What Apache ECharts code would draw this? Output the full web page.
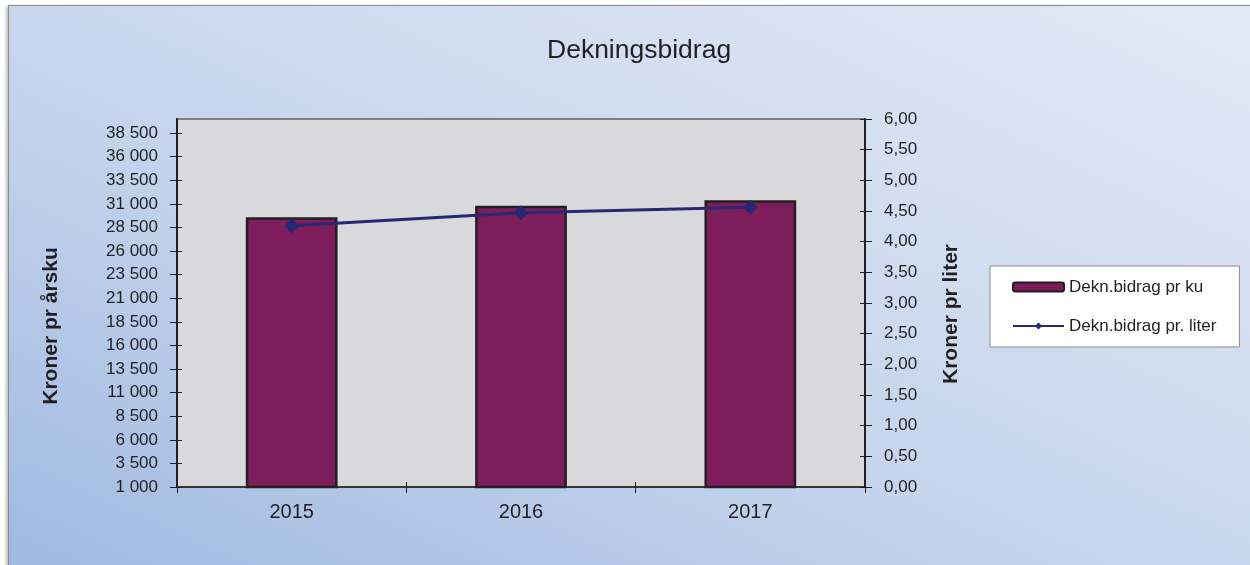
<!DOCTYPE html>
<html>
<head>
<meta charset="utf-8">
<script src="https://cdn.jsdelivr.net/npm/echarts@6/dist/echarts.min.js"></script>
<style>
  html, body { margin: 0; padding: 0; background: #ffffff; }
  #frame {
    position: absolute; left: 8px; top: 5px; width: 1260px; height: 580px;
    border-left: 1.5px solid #8a8a8a; border-top: 1.5px solid #8a8a8a;
    background: linear-gradient(to top right, #9fb8e0 0%, #c6d5ed 45%, #e3eaf6 100%);
    box-shadow: -2px 1px 3px rgba(0,0,0,0.25);
  }
  #main { position: absolute; left: 0; top: 0; width: 1250px; height: 565px; }
</style>
</head>
<body>
<div id="frame"></div>
<div id="main"></div>
<script>
// data
const years = ['2015', '2016', '2017'];
const dbPerCow = [29600, 30800, 31400];     // Dekn.bidrag pr ku
const dbPerLiter = [4.26, 4.47, 4.56];      // Dekn.bidrag pr. liter
const leftTicks = [1000, 3500, 6000, 8500, 11000, 13500, 16000, 18500,
                   21000, 23500, 26000, 28500, 31000, 33500, 36000, 38500];

const font = 'Liberation Sans, Arial, sans-serif';
const txt = '#231f20';

const fmtSpace = v => String(v).replace(/\B(?=(\d{3})+(?!\d))/g, ' ');
const fmtComma = v => v.toFixed(2).replace('.', ',');

// the excel-style ticks cross the axis line, so a bare twin axis draws the inner half
const innerTicks = (extra) => Object.assign({
    axisLine: { show: false },
    axisLabel: { show: false },
    splitLine: { show: false },
    axisTick: { show: true, inside: true, length: 5, lineStyle: { color: '#231f20' } }
}, extra);

const myChart = echarts.init(document.getElementById('main'), null, { renderer: 'canvas' });

myChart.setOption({
    backgroundColor: 'transparent',
    animation: false,
    title: {
        text: 'Dekningsbidrag',
        left: 542,
        top: 32,
        textStyle: { fontFamily: font, fontSize: 26.5, fontWeight: 'normal', color: txt }
    },
    grid: {
        left: 177, top: 119, right: 385, bottom: 78,
        show: true,
        backgroundColor: '#d9d9db',
        borderColor: '#7f7f7f',
        borderWidth: 2
    },
    legend: {
        orient: 'vertical',
        left: 990,
        top: 266,
        padding: [11, 23, 11, 22],
        backgroundColor: '#ffffff',
        borderColor: '#8c8c8c',
        borderWidth: 1,
        itemWidth: 51,
        itemHeight: 9,
        itemGap: 19,
        textStyle: { fontFamily: font, fontSize: 17, color: txt, lineHeight: 20 },
        data: ['Dekn.bidrag pr ku', 'Dekn.bidrag pr. liter']
    },
    xAxis: [
        {
            type: 'category',
            data: years,
            boundaryGap: true,
            axisLine: { lineStyle: { color: '#231f20', width: 1.5 } },
            axisTick: { show: true, length: 6, lineStyle: { color: '#231f20' } },
            axisLabel: { fontFamily: font, fontSize: 20, color: txt, margin: 15 }
        },
        innerTicks({ type: 'category', data: years, boundaryGap: true, position: 'bottom' })
    ],
    yAxis: [
        {
            type: 'value',
            min: 1000,
            max: 40000,
            name: 'Kroner pr årsku',
            nameLocation: 'middle',
            nameRotate: 90,
            nameGap: 115,
            nameTextStyle: { fontFamily: font, fontSize: 21, fontWeight: 'bold', color: txt, padding: [0, 46, 0, 0] },
            axisLine: { show: true, lineStyle: { color: '#231f20', width: 2 } },
            axisTick: { show: true, length: 7, customValues: leftTicks, lineStyle: { color: '#231f20' } },
            axisLabel: {
                customValues: leftTicks,
                fontFamily: font, fontSize: 17, color: txt, margin: 19,
                formatter: fmtSpace
            },
            splitLine: { show: false }
        },
        {
            type: 'value',
            min: 0,
            max: 6,
            interval: 0.5,
            position: 'right',
            name: 'Kroner pr liter',
            nameLocation: 'middle',
            nameRotate: 90,
            nameGap: 76,
            nameTextStyle: { fontFamily: font, fontSize: 21, fontWeight: 'bold', color: txt, padding: [0, 22, 0, 0] },
            axisLine: { show: true, lineStyle: { color: '#231f20', width: 2 } },
            axisTick: { show: true, length: 7, lineStyle: { color: '#231f20' } },
            axisLabel: { fontFamily: font, fontSize: 17, color: txt, margin: 19, formatter: fmtComma },
            splitLine: { show: false }
        },
        innerTicks({
            type: 'value', min: 1000, max: 40000, position: 'left',
            axisTick: { show: true, inside: true, length: 5, customValues: leftTicks, lineStyle: { color: '#231f20' } }
        }),
        innerTicks({ type: 'value', min: 0, max: 6, interval: 0.5, position: 'right' })
    ],
    series: [
        {
            name: 'Dekn.bidrag pr ku',
            type: 'bar',
            data: dbPerCow,
            barWidth: '40%',
            itemStyle: { color: '#7d1d5b', borderColor: '#231f20', borderWidth: 2.5 }
        },
        {
            name: 'Dekn.bidrag pr. liter',
            type: 'line',
            yAxisIndex: 1,
            data: dbPerLiter,
            symbol: 'diamond',
            symbolSize: 15,
            lineStyle: { color: '#272773', width: 3 },
            itemStyle: { color: '#272773' }
        }
    ]
});
</script>
</body>
</html>
